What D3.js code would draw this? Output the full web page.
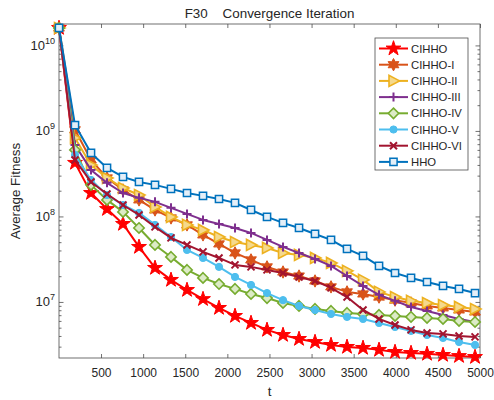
<!DOCTYPE html>
<html>
<head>
<meta charset="utf-8">
<script src="https://cdn.jsdelivr.net/npm/d3@7"></script>
<style>
  body { margin: 0; background: #fff; }
  text { font-family: "Liberation Sans", Arial, Helvetica, sans-serif; fill: #262626; }
</style>
</head>
<body>
<svg id="chart" width="494" height="400"></svg>
<script>
// iterations where the markers sit
const iters = [1, 191, 381, 571, 761, 951, 1141, 1331, 1521, 1711, 1901, 2091, 2281, 2471,
  2661, 2851, 3041, 3231, 3421, 3611, 3801, 3991, 4181, 4371, 4561, 4751, 4941];

// average fitness
const cihho = [1.6e10, 4.23e8, 1.88e8, 1.22e8, 8.17e7, 4.40e7, 2.50e7, 1.81e7, 1.38e7, 1.08e7, 8.51e6, 6.86e6, 5.68e6,
  4.71e6, 4.11e6, 3.69e6, 3.40e6, 3.14e6, 2.98e6, 2.90e6, 2.75e6, 2.60e6, 2.53e6, 2.47e6, 2.40e6, 2.33e6, 2.27e6];
const cihho1 = [1.6e10, 1.03e9, 4.58e8, 2.82e8, 2.04e8, 1.56e8, 1.19e8, 9.60e7, 7.96e7, 6.08e7, 4.77e7, 3.74e7, 3.10e7,
  2.57e7, 2.24e7, 2.01e7, 1.76e7, 1.50e7, 1.31e7, 1.24e7, 1.14e7, 1.05e7, 9.73e6, 8.98e6, 8.51e6, 8.06e6, 7.64e6];
const cihho2 = [1.6e10, 8.28e8, 4.00e8, 2.82e8, 2.15e8, 1.78e8, 1.29e8, 9.87e7, 7.96e7, 6.95e7, 5.75e7, 5.03e7, 4.64e7,
  4.28e7, 3.74e7, 3.55e7, 3.27e7, 2.86e7, 2.31e7, 1.81e7, 1.31e7, 1.14e7, 1.03e7, 9.73e6, 9.22e6, 8.74e6, 8.28e6];
const cihho3 = [1.6e10, 6.86e8, 3.50e8, 2.47e8, 1.88e8, 1.65e8, 1.48e8, 1.26e8, 1.07e8, 9.10e7, 8.17e7, 7.33e7, 6.41e7,
  5.31e7, 4.40e7, 3.74e7, 3.18e7, 2.64e7, 2.01e7, 1.54e7, 1.21e7, 1.03e7, 8.74e6, 7.85e6, 7.05e6, 6.33e6, 5.83e6];
const cihho4 = [1.6e10, 6.00e8, 2.34e8, 1.56e8, 1.13e8, 7.33e7, 4.64e7, 3.36e7, 2.37e7, 1.91e7, 1.62e7, 1.42e7, 1.24e7,
  1.11e7, 9.73e6, 8.98e6, 8.28e6, 7.85e6, 7.44e6, 7.24e6, 7.05e6, 6.86e6, 6.68e6, 6.50e6, 6.33e6, 6.00e6, 5.83e6];
const cihho5 = [1.6e10, 5.24e8, 2.67e8, 1.78e8, 1.36e8, 1.10e8, 7.96e7, 5.75e7, 4.06e7, 3.27e7, 2.57e7, 1.96e7, 1.58e7,
  1.27e7, 1.05e7, 8.98e6, 8.06e6, 7.24e6, 6.68e6, 6.33e6, 5.68e6, 5.10e6, 4.58e6, 4.11e6, 3.79e6, 3.40e6, 3.14e6];
const cihho6 = [1.6e10, 4.58e8, 2.53e8, 1.83e8, 1.36e8, 1.04e8, 7.54e7, 5.61e7, 4.64e7, 3.85e7, 3.27e7, 2.71e7, 2.57e7,
  2.37e7, 2.18e7, 1.96e7, 1.76e7, 1.46e7, 1.14e7, 8.06e6, 6.33e6, 5.38e6, 4.71e6, 4.34e6, 4.23e6, 4.00e6, 3.90e6];
const hho = [1.6e10, 1.17e9, 5.53e8, 3.69e8, 2.90e8, 2.53e8, 2.34e8, 2.10e8, 1.88e8, 1.74e8, 1.60e8, 1.44e8, 1.19e8,
  9.87e7, 8.40e7, 7.33e7, 6.24e7, 5.31e7, 4.17e7, 3.45e7, 2.64e7, 2.18e7, 1.91e7, 1.71e7, 1.54e7, 1.42e7, 1.27e7];

const xTicks = [500, 1000, 1500, 2000, 2500, 3000, 3500, 4000, 4500, 5000];
const yTicks = [1e7, 1e8, 1e9, 1e10];

const series = [
  {name: "CIHHO",     values: cihho,  color: "#FF0000", marker: "pentagram"},
  {name: "CIHHO-I",   values: cihho1, color: "#D95319", marker: "hexagram"},
  {name: "CIHHO-II",  values: cihho2, color: "#EDB120", marker: "triangle"},
  {name: "CIHHO-III", values: cihho3, color: "#7E2F8E", marker: "plus"},
  {name: "CIHHO-IV",  values: cihho4, color: "#77AC30", marker: "diamond"},
  {name: "CIHHO-V",   values: cihho5, color: "#4DBEEE", marker: "circle"},
  {name: "CIHHO-VI",  values: cihho6, color: "#A2142F", marker: "cross"},
  {name: "HHO",       values: hho,    color: "#0072BD", marker: "square"}
];

const L = 59, R = 480, T = 24, B = 358;
const svg = d3.select("#chart");

const x = d3.scaleLinear().domain([1, 5000]).range([L, R]);
const y = d3.scaleLog().domain([2.21e6, 1.78e10]).range([B, T]);

function starPath(n, ro, ri) {
  const pts = [];
  for (let i = 0; i < 2 * n; i++) {
    const a = -Math.PI / 2 + i * Math.PI / n;
    const r = i % 2 ? ri : ro;
    pts.push([r * Math.cos(a), r * Math.sin(a)]);
  }
  return "M" + pts.map(p => p[0].toFixed(2) + "," + p[1].toFixed(2)).join("L") + "Z";
}

const markers = {
  pentagram: {d: starPath(5, 7.8, 3.0), fill: true, sw: 1},
  hexagram:  {d: starPath(6, 6.2, 3.4), fill: true, sw: 1},
  triangle:  {d: "M6,0L-4.5,-5.5L-4.5,5.5Z", fill: "#f5d98c", sw: 1.6},
  plus:      {d: "M-4.5,0H4.5M0,-4.5V4.5", fill: false, sw: 2},
  diamond:   {d: "M0,-5.2L5.2,0L0,5.2L-5.2,0Z", fill: "#dcebc6", sw: 1.6},
  circle:    {d: "M3.6,0A3.6,3.6 0 1,1 -3.6,0A3.6,3.6 0 1,1 3.6,0Z", fill: true, sw: 1},
  cross:     {d: "M-3.5,-3.5L3.5,3.5M-3.5,3.5L3.5,-3.5", fill: false, sw: 2},
  square:    {d: "M-3.6,-3.6H3.6V3.6H-3.6Z", fill: "#e4eff8", sw: 1.5}
};

function drawMarker(g, s) {
  const m = markers[s.marker];
  g.append("path")
    .attr("d", m.d)
    .attr("fill", m.fill === true ? s.color : (m.fill || "none"))
    .attr("stroke", s.color)
    .attr("stroke-width", m.sw)
    .attr("stroke-linejoin", "miter");
}

// ticks (inside, MATLAB style), mirrored on top/right
const tickColor = "#4d4d4d";
function styleAxis(g) {
  g.select(".domain").remove();
  g.selectAll(".tick line").attr("stroke", tickColor).attr("stroke-width", 0.8);
}

svg.append("g").attr("transform", `translate(0,${B})`)
  .call(d3.axisBottom(x).tickValues(xTicks).tickSize(-4).tickPadding(10).tickFormat(d3.format("d")))
  .call(styleAxis)
  .call(g => g.selectAll(".tick text").attr("font-size", 12).attr("fill", "#262626")
    .style("font-family", "'Liberation Sans', Arial, sans-serif"));
svg.append("g").attr("transform", `translate(0,${T})`)
  .call(d3.axisTop(x).tickValues(xTicks).tickSize(-4).tickFormat(""))
  .call(styleAxis);

const minor = y.ticks().filter(v => yTicks.indexOf(v) < 0);
[[L, d3.axisLeft], [R, d3.axisRight]].forEach(([px, ax]) => {
  svg.append("g").attr("transform", `translate(${px},0)`)
    .call(ax(y).tickValues(yTicks).tickSize(-4.5).tickFormat(""))
    .call(styleAxis);
  svg.append("g").attr("transform", `translate(${px},0)`)
    .call(ax(y).tickValues(minor).tickSize(-2.5).tickFormat(""))
    .call(styleAxis);
});

// y labels 10^n
yTicks.forEach(v => {
  const t = svg.append("text")
    .attr("x", 55).attr("y", y(v) + 4.5)
    .attr("text-anchor", "end")
    .attr("font-size", 13);
  t.append("tspan").text("10");
  t.append("tspan").attr("font-size", 9).attr("dy", -6).text(Math.round(Math.log10(v)));
});

// plot box
svg.append("rect")
  .attr("x", L).attr("y", T).attr("width", R - L).attr("height", B - T)
  .attr("fill", "none").attr("stroke", tickColor).attr("stroke-width", 0.8);

// series
const line = d3.line().x((d, i) => x(iters[i])).y(d => y(d));
series.forEach(s => {
  const g = svg.append("g");
  g.append("path")
    .attr("d", line(s.values))
    .attr("fill", "none")
    .attr("stroke", s.color)
    .attr("stroke-width", 2)
    .attr("stroke-linejoin", "round");
  s.values.forEach((v, i) => {
    drawMarker(g.append("g").attr("transform", `translate(${x(iters[i])},${y(v)})`), s);
  });
});

// title and labels
svg.append("text")
  .attr("x", (L + R) / 2).attr("y", 18)
  .attr("text-anchor", "middle")
  .attr("font-size", 13.4)
  .style("white-space", "pre")
  .text("F30    Convergence Iteration");

svg.append("text")
  .attr("x", (L + R) / 2).attr("y", 396)
  .attr("text-anchor", "middle")
  .attr("font-size", 13.4)
  .text("t");

svg.append("text")
  .attr("transform", `translate(20,${(T + B) / 2}) rotate(-90)`)
  .attr("text-anchor", "middle")
  .attr("font-size", 13.4)
  .text("Average Fitness");

// legend
const lg = svg.append("g");
lg.append("rect")
  .attr("x", 375).attr("y", 38).attr("width", 93).attr("height", 132)
  .attr("fill", "#fff").attr("stroke", tickColor).attr("stroke-width", 0.8);
series.forEach((s, i) => {
  const cy = 48.5 + i * 16.2;
  lg.append("line")
    .attr("x1", 379).attr("x2", 408).attr("y1", cy).attr("y2", cy)
    .attr("stroke", s.color).attr("stroke-width", 2);
  drawMarker(lg.append("g").attr("transform", `translate(393.5,${cy})`), s);
  lg.append("text")
    .attr("x", 411).attr("y", cy + 4)
    .attr("font-size", 11.3)
    .text(s.name);
});
</script>
</body>
</html>
